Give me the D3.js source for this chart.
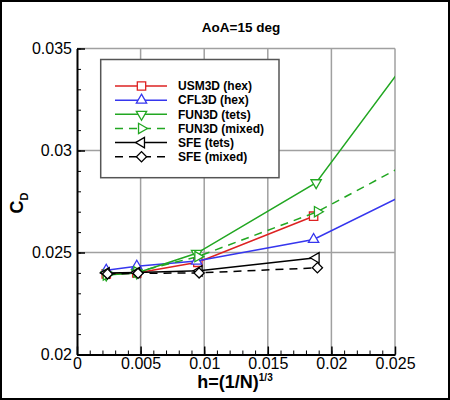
<!DOCTYPE html>
<meta charset="utf-8">
<style>
    body { margin: 0; }
    text { font-family: "Liberation Sans", Arial, sans-serif; }
    .grid line { stroke: #a0a0a0; stroke-width: 1.5; }
    .axis path, .axis line { stroke: #000; }
</style>
<svg width="450" height="400"></svg>
<script src="https://cdn.jsdelivr.net/npm/d3@7"></script>
<script>

    // grid spacing h and drag coefficient for each code / mesh type
    var usm3dH = [0.0023, 0.0047, 0.0095, 0.0186];
    var usm3dCD = [0.02395, 0.02400, 0.02452, 0.02678];

    var cfl3dH = [0.0023, 0.0047, 0.0094, 0.0186, 0.0373];
    var cfl3dCD = [0.02413, 0.02433, 0.02458, 0.02564, 0.03139];

    var fun3dTetsH = [0.0023, 0.0047, 0.0094, 0.0188, 0.0376];
    var fun3dTetsCD = [0.02390, 0.02400, 0.02496, 0.02842, 0.04416];

    var fun3dMixedH = [0.0023, 0.0047, 0.0095, 0.0189, 0.0378];
    var fun3dMixedCD = [0.02390, 0.02405, 0.02480, 0.02700, 0.03330];

    var sfeTetsH = [0.0023, 0.0047, 0.0096, 0.0188];
    var sfeTetsCD = [0.02400, 0.02402, 0.02410, 0.02474];

    var sfeMixedH = [0.0024, 0.0048, 0.0096, 0.0189];
    var sfeMixedCD = [0.02395, 0.02398, 0.02400, 0.02425];

    var xTicks = [0, 0.005, 0.01, 0.015, 0.02, 0.025];
    var yTicks = [0.02, 0.025, 0.03, 0.035];

    var series = [
        { name: "USM3D (hex)", h: usm3dH, cd: usm3dCD, color: "#dd2222", dash: null, sym: "square" },
        { name: "CFL3D (hex)", h: cfl3dH, cd: cfl3dCD, color: "#3636ee", dash: null, sym: "up" },
        { name: "FUN3D (tets)", h: fun3dTetsH, cd: fun3dTetsCD, color: "#22a722", dash: null, sym: "down" },
        { name: "FUN3D (mixed)", h: fun3dMixedH, cd: fun3dMixedCD, color: "#22a722", dash: "8,6", sym: "right" },
        { name: "SFE (tets)", h: sfeTetsH, cd: sfeTetsCD, color: "#000", dash: null, sym: "left" },
        { name: "SFE (mixed)", h: sfeMixedH, cd: sfeMixedCD, color: "#000", dash: "8,6", sym: "diamond" }
    ];

    var svg = d3.select("svg");
    var plotLeft = 77, plotRight = 395, plotTop = 48.5, plotBottom = 354.5;

    var x = d3.scaleLinear().domain([0, 0.025]).range([plotLeft, plotRight]);
    var y = d3.scaleLinear().domain([0.02, 0.035]).range([plotBottom, plotTop]);

    var fmt = function (d) { return String(+d.toFixed(3)); };

    // outer frame
    svg.append("rect")
        .attr("x", 1).attr("y", 1).attr("width", 448).attr("height", 398)
        .attr("fill", "#fff").attr("stroke", "#000").attr("stroke-width", 2);

    // grid
    var grid = svg.append("g").attr("class", "grid");
    grid.selectAll(".gx").data(xTicks.slice(1)).enter().append("line")
        .attr("x1", x).attr("x2", x).attr("y1", plotTop).attr("y2", plotBottom);
    grid.selectAll(".gy").data(yTicks.slice(1)).enter().append("line")
        .attr("y1", y).attr("y2", y).attr("x1", plotLeft).attr("x2", plotRight);

    // minor ticks
    var minorX = d3.range(0, 26).map(function (i) { return i / 1000; });
    var minorY = d3.range(20, 36).map(function (i) { return i / 1000; });

    svg.append("g").attr("class", "axis")
        .attr("transform", "translate(0," + plotBottom + ")")
        .call(d3.axisBottom(x).tickValues(minorX).tickSize(-4).tickFormat(""))
        .call(function (g) { g.select(".domain").remove(); });
    svg.append("g").attr("class", "axis")
        .attr("transform", "translate(" + plotLeft + ",0)")
        .call(d3.axisLeft(y).tickValues(minorY).tickSize(-4).tickFormat(""))
        .call(function (g) { g.select(".domain").remove(); });

    // major axes
    var xAxis = svg.append("g").attr("class", "axis")
        .attr("transform", "translate(0," + plotBottom + ")")
        .call(d3.axisBottom(x).tickValues(xTicks).tickSizeInner(-8).tickSizeOuter(0)
            .tickPadding(3).tickFormat(fmt));
    var yAxis = svg.append("g").attr("class", "axis")
        .attr("transform", "translate(" + plotLeft + ",0)")
        .call(d3.axisLeft(y).tickValues(yTicks).tickSizeInner(-8).tickSizeOuter(0)
            .tickPadding(5).tickFormat(fmt));

    [xAxis, yAxis].forEach(function (a) {
        a.select(".domain").attr("stroke-width", 2);
        a.selectAll(".tick line").attr("stroke-width", 1.5);
        a.selectAll("text").attr("font-size", 16).attr("fill", "#000")
            .style("font-family", "'Liberation Sans', Arial, sans-serif");
    });

    // markers
    var symbolDef = {
        square: [d3.symbolSquare, 70, 0],
        up: [d3.symbolTriangle, 46, 0],
        down: [d3.symbolTriangle, 46, 180],
        right: [d3.symbolTriangle, 46, 90],
        left: [d3.symbolTriangle, 46, -90],
        diamond: [d3.symbolSquare, 52, 45]
    };

    function marker(g, s, cx, cy) {
        var def = symbolDef[s.sym];
        g.append("path")
            .attr("d", d3.symbol().type(def[0]).size(def[1])())
            .attr("transform", "translate(" + cx + "," + cy + ") rotate(" + def[2] + ")")
            .attr("fill", "#fff")
            .attr("stroke", s.color)
            .attr("stroke-width", 1.3);
    }

    svg.append("clipPath").attr("id", "clip")
        .append("rect").attr("x", plotLeft).attr("y", plotTop)
        .attr("width", plotRight - plotLeft).attr("height", plotBottom - plotTop);

    var plot = svg.append("g").attr("clip-path", "url(#clip)");

    var line = d3.line()
        .x(function (d) { return x(d[0]); })
        .y(function (d) { return y(d[1]); });

    series.forEach(function (s) {
        var pts = s.h.map(function (h, i) { return [h, s.cd[i]]; });
        plot.append("path")
            .attr("d", line(pts))
            .attr("fill", "none")
            .attr("stroke", s.color)
            .attr("stroke-width", 1.5)
            .attr("stroke-dasharray", s.dash);
        pts.forEach(function (p) { marker(plot, s, x(p[0]), y(p[1])); });
    });

    // legend
    var legend = svg.append("g");
    legend.append("rect")
        .attr("x", 100.7).attr("y", 59.5).attr("width", 178.3).attr("height", 118.2)
        .attr("fill", "#fff").attr("stroke", "#555").attr("stroke-width", 1.5);

    series.forEach(function (s, i) {
        var ly = 86 + i * 14.15;
        legend.append("line")
            .attr("x1", 115).attr("x2", 167).attr("y1", ly).attr("y2", ly)
            .attr("stroke", s.color).attr("stroke-width", 1.5)
            .attr("stroke-dasharray", s.dash);
        marker(legend, s, 141.5, ly);
        legend.append("text")
            .attr("x", 178).attr("y", ly + 4.3)
            .attr("font-size", 12).attr("font-weight", "bold")
            .text(s.name);
    });

    // title and axis labels
    svg.append("text")
        .attr("x", 241).attr("y", 32)
        .attr("text-anchor", "middle")
        .attr("font-size", 13.5).attr("font-weight", "bold")
        .text("AoA=15 deg");

    var xt = svg.append("text")
        .attr("x", 235).attr("y", 388)
        .attr("text-anchor", "middle")
        .attr("font-size", 18).attr("font-weight", "bold");
    xt.append("tspan").text("h=(1/N)");
    xt.append("tspan").attr("font-size", 10).attr("dy", -7).text("1/3");

    var yt = svg.append("text")
        .attr("transform", "translate(23,203) rotate(-90)")
        .attr("text-anchor", "middle")
        .attr("font-size", 18).attr("font-weight", "bold");
    yt.append("tspan").text("C");
    yt.append("tspan").attr("font-size", 11).attr("dy", 5).text("D");

</script>
